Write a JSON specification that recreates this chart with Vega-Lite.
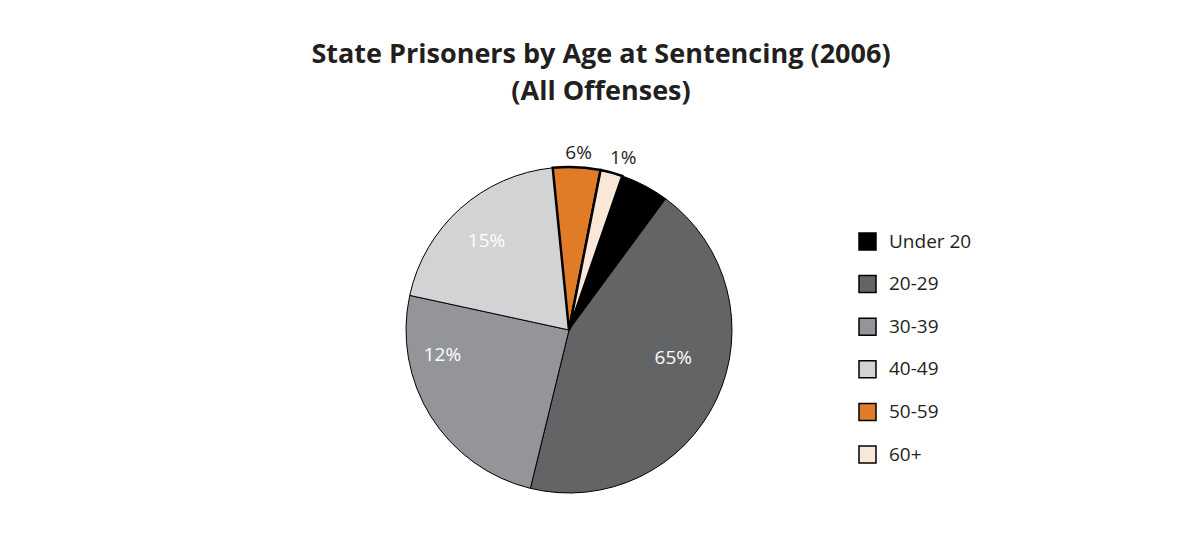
{
  "$schema": "https://vega.github.io/schema/vega-lite/v6.json",
  "width": 326,
  "height": 326,
  "autosize": {"type": "none"},
  "padding": {"left": 406, "top": 167, "right": 470, "bottom": 43},
  "background": "white",
  "title": {
    "text": ["State Prisoners by Age at Sentencing (2006)", "(All Offenses)"],
    "font": "Open Sans",
    "fontSize": 27,
    "fontWeight": "bold",
    "color": "#231f20",
    "anchor": "middle",
    "dx": 32,
    "offset": 36,
    "lineHeight": 37
  },
  "data": {
    "values": [
      {"age": "Under 20", "share": 4.8, "ord": 1, "label": ""},
      {"age": "20-29", "share": 43.7, "ord": 2, "label": "65%"},
      {"age": "30-39", "share": 24.6, "ord": 3, "label": "12%"},
      {"age": "40-49", "share": 20.0, "ord": 4, "label": "15%"},
      {"age": "50-59", "share": 4.7, "ord": 5, "label": "6%"},
      {"age": "60+", "share": 2.2, "ord": 6, "label": "1%"}
    ]
  },
  "resolve": {"scale": {"theta": "independent"}},
  "encoding": {
    "order": {"field": "ord", "type": "quantitative"}
  },
  "layer": [
    {
      "mark": {"type": "arc", "outerRadius": 163, "stroke": "black"},
      "encoding": {
        "theta": {"field": "share", "type": "quantitative", "stack": true, "scale": {"range": [0.3334, 6.6166]}},
        "color": {
          "field": "age",
          "type": "nominal",
          "sort": ["Under 20", "20-29", "30-39", "40-49", "50-59", "60+"],
          "scale": {
            "domain": ["Under 20", "20-29", "30-39", "40-49", "50-59", "60+"],
            "range": ["#000000", "#636466", "#939598", "#d1d3d4", "#e07b27", "#f9e8d8"]
          },
          "legend": {
            "title": null,
            "orient": "none",
            "legendX": 452,
            "legendY": 65,
            "padding": 0,
            "symbolType": "square",
            "symbolSize": 289,
            "symbolStrokeColor": "black",
            "symbolStrokeWidth": 1.5,
            "symbolOpacity": 1,
            "labelFont": "Open Sans",
            "labelFontSize": 19,
            "labelColor": "#231f20",
            "labelOffset": 12,
            "rowPadding": 19.6
          }
        },
        "strokeWidth": {
          "condition": {"test": "datum.age === '50-59' || datum.age === '60+'", "value": 2.5},
          "value": 1
        }
      }
    },
    {
      "mark": {"type": "text", "radius": 108, "font": "Open Sans", "fontSize": 19, "color": "white"},
      "encoding": {
        "theta": {"field": "share", "type": "quantitative", "stack": true, "scale": {"range": [0.1606, 6.4438]}},
        "text": {"condition": {"test": "datum.age === '20-29'", "field": "label"}, "value": ""}
      }
    },
    {
      "mark": {"type": "text", "radius": 129, "font": "Open Sans", "fontSize": 19, "color": "white"},
      "encoding": {
        "theta": {"field": "share", "type": "quantitative", "stack": true, "scale": {"range": [0.6982, 6.9814]}},
        "text": {"condition": {"test": "datum.age === '30-39'", "field": "label"}, "value": ""}
      }
    },
    {
      "mark": {"type": "text", "radius": 121, "font": "Open Sans", "fontSize": 19, "color": "white"},
      "encoding": {
        "theta": {"field": "share", "type": "quantitative", "stack": true, "scale": {"range": [0.3125, 6.5957]}},
        "text": {"condition": {"test": "datum.age === '40-49'", "field": "label"}, "value": ""}
      }
    },
    {
      "mark": {"type": "text", "radius": 177, "font": "Open Sans", "fontSize": 19, "color": "#231f20"},
      "encoding": {
        "theta": {"field": "share", "type": "quantitative", "stack": true, "scale": {"range": [0.3404, 6.6236]}},
        "text": {"condition": {"test": "datum.age === '50-59'", "field": "label"}, "value": ""}
      }
    },
    {
      "mark": {"type": "text", "radius": 180, "font": "Open Sans", "fontSize": 19, "color": "#231f20"},
      "encoding": {
        "theta": {"field": "share", "type": "quantitative", "stack": true, "scale": {"range": [0.3753, 6.6585]}},
        "text": {"condition": {"test": "datum.age === '60+'", "field": "label"}, "value": ""}
      }
    }
  ]
}
